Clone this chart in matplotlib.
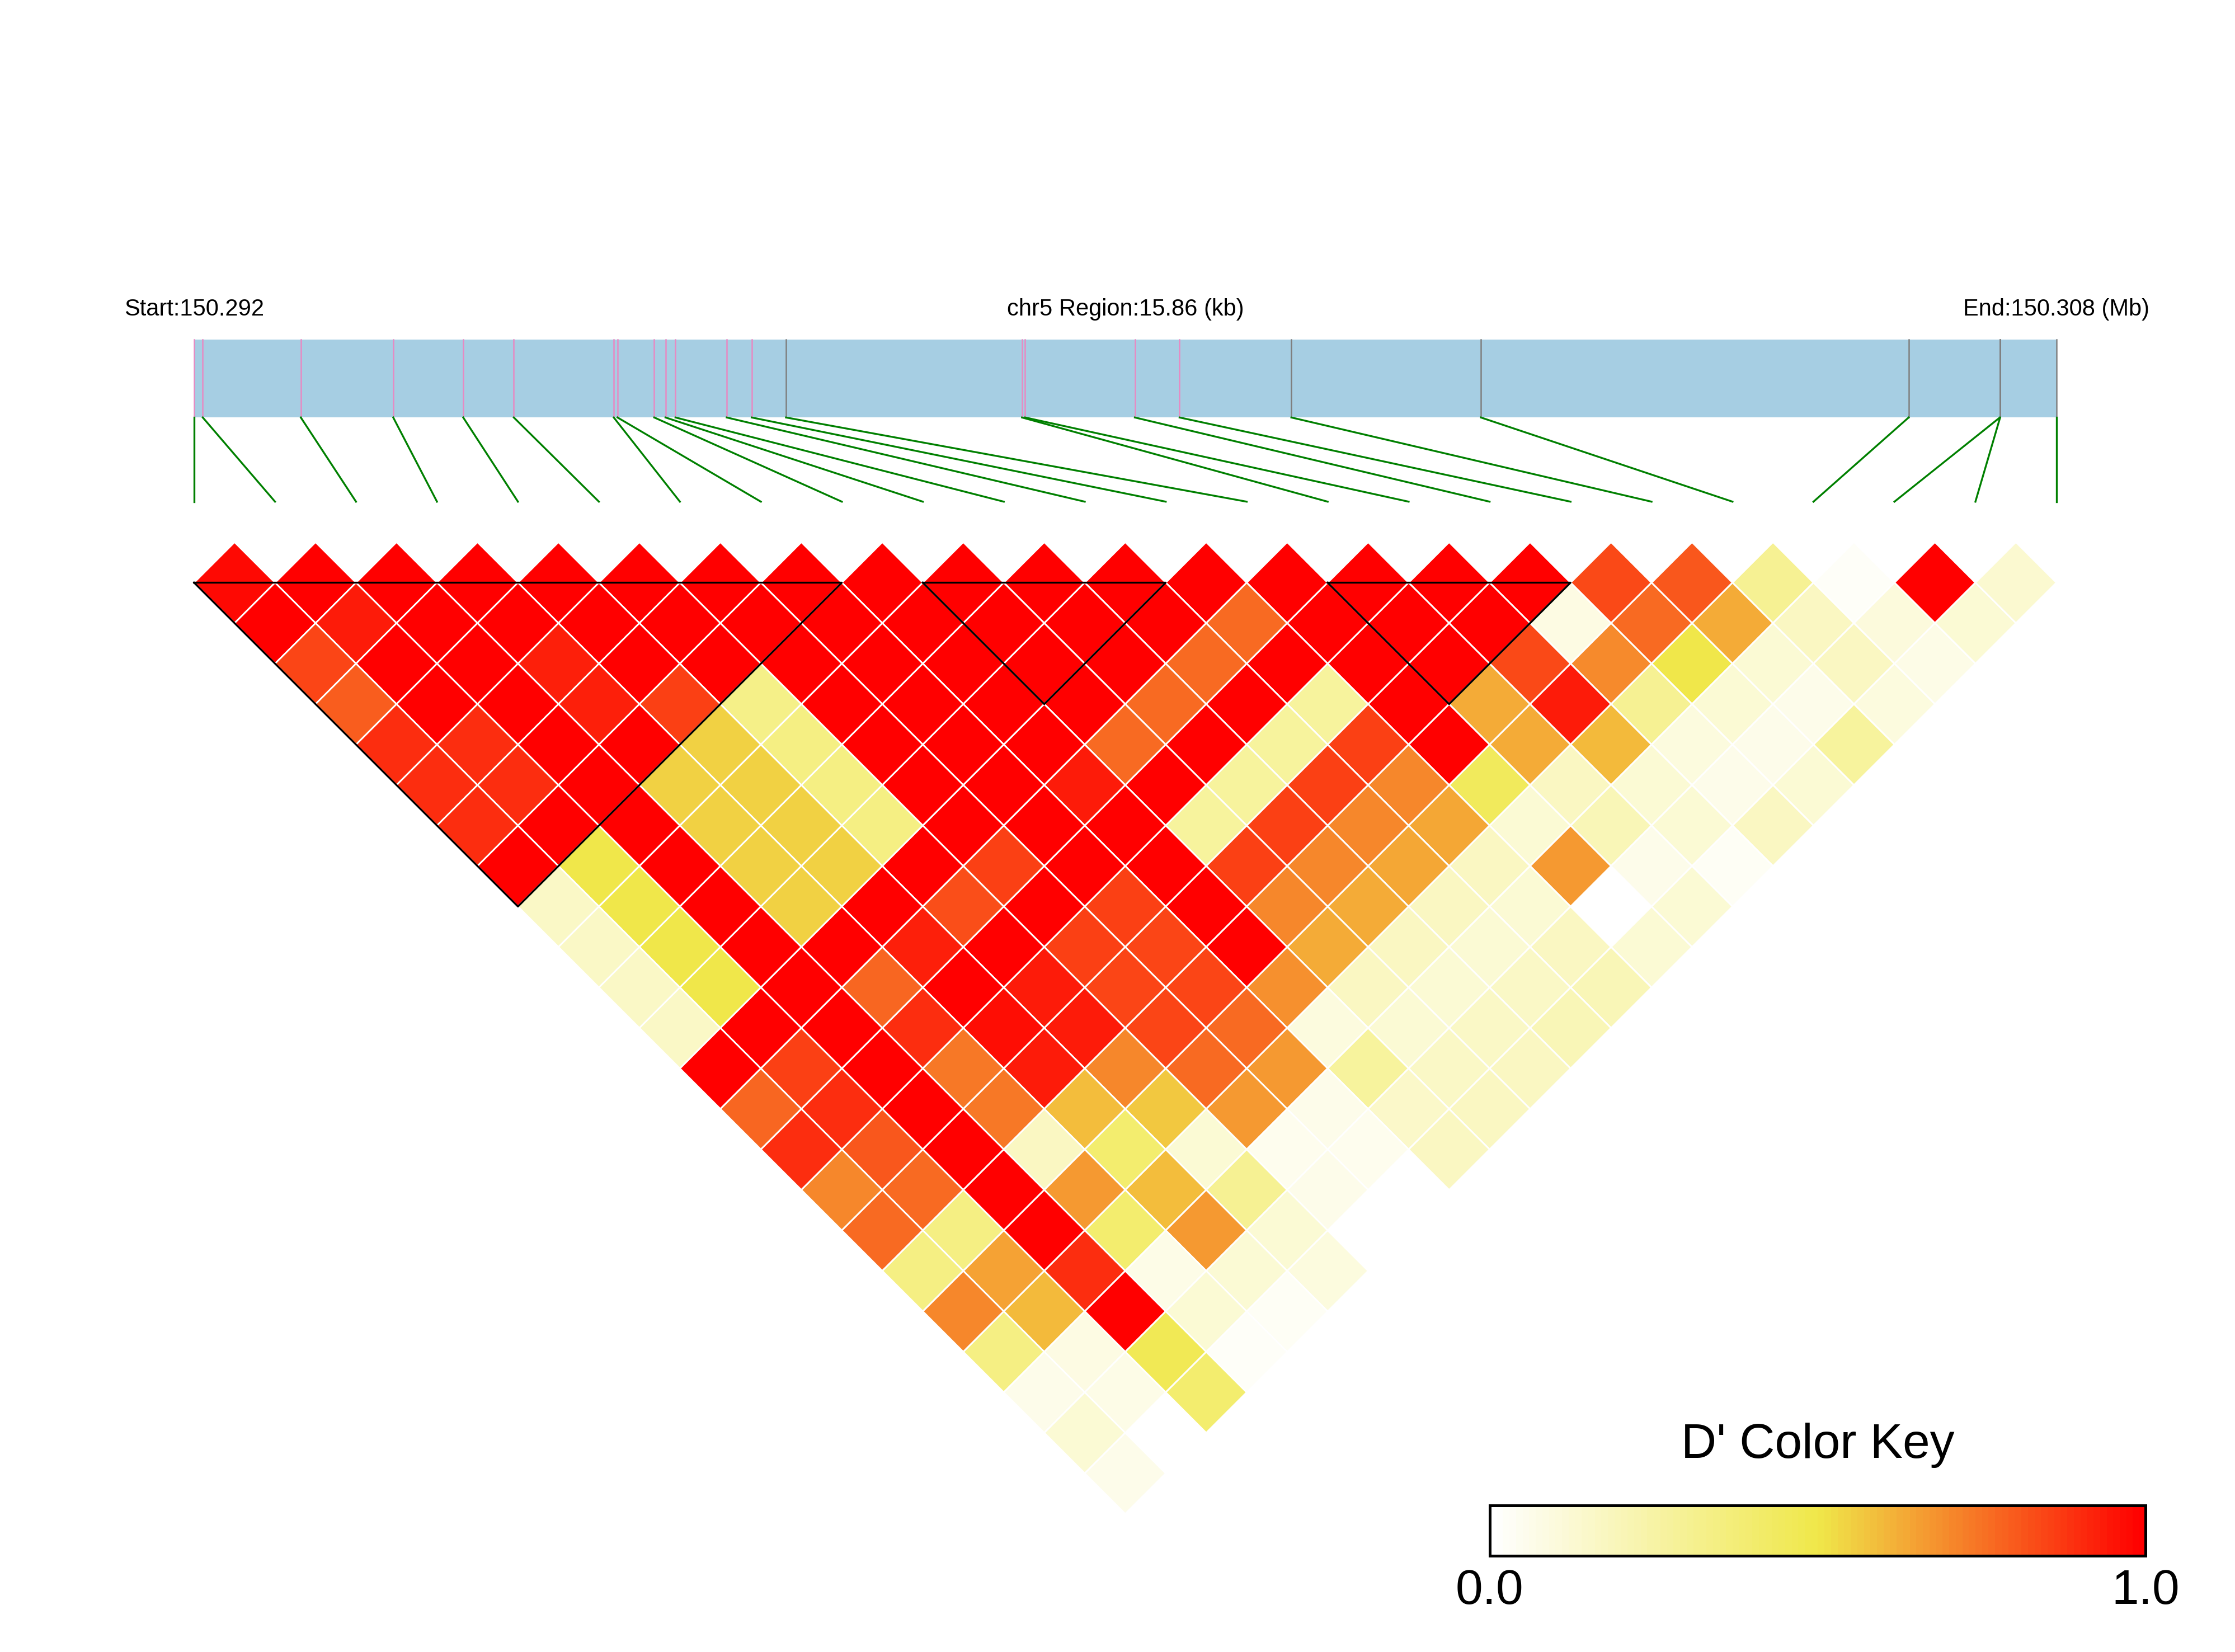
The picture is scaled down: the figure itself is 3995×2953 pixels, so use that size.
import numpy as np
import matplotlib
matplotlib.use('Agg')
import matplotlib.pyplot as plt
from matplotlib.colors import LinearSegmentedColormap
from matplotlib.patches import Rectangle
from matplotlib.collections import PolyCollection

plt.rcParams['font.family'] = ['Liberation Sans', 'DejaVu Sans']

# --- data ---------------------------------------------------------------

chrom = 'chr5'
start_mb = 150.292
end_mb = 150.308
region_kb = 15.86

# SNP positions, kb from the start of the region
snp_pos_kb = [0.000, 0.074, 0.909, 1.696, 2.292, 2.723, 3.574, 3.606,
              3.919, 4.015, 4.100, 4.536, 4.749, 5.041, 7.051, 7.078,
              8.012, 8.393, 9.345, 10.959, 14.602, 15.379, 15.381, 15.860]
# mark colour in the gene bar
snp_mark = ['pink'] * 13 + ['gray'] + ['pink'] * 4 + ['gray'] * 6

# haplotype blocks: first and last SNP
block_first = [0, 9, 14]
block_last = [8, 12, 17]

# D' values, one list per SNP distance (j - i); None = no value
d1 = [0.98, 1, 1, 1, 1, 1, 1, 1, 1, 1, 1, 1, 1, 1, 1, 1, 1, 0.84, 0.81, 0.30, 0.02, 1.0, 0.13]
d2 = [1, 0.94, 1, 1, 1, 1, 1, 1, 1, 1, 1, 1, 0.77, 1, 1, 1, 0.08, 0.77, 0.63, 0.17, 0.10, 0.12]
d3 = [0.85, 1, 1, 0.93, 1, 1, 1, 1, 1, 1, 1, 0.77, 1, 1, 1, 0.84, 0.70, 0.50, 0.12, 0.17, 0.07]
d4 = [0.80, 1, 1, 0.93, 0.86, 0.33, 1, 1, 1, 1, 0.77, 1, 0.27, 1, 0.63, 0.94, 0.30, 0.12, 0.06, 0.09]
d5 = [0.90, 0.90, 1, 1, 0.55, 0.34, 1, 1, 1, 0.77, 1, 0.27, 0.86, 1, 0.63, 0.60, 0.09, 0.06, 0.27]
d6 = [0.90, 0.90, 1, 0.55, 0.55, 0.34, 1, 1, 0.94, 1, 0.27, 0.86, 0.71, 0.45, 0.17, 0.12, 0.06, 0.12]
d7 = [0.90, 1, 1, 0.55, 0.55, 0.34, 1, 1, 1, 0.27, 0.86, 0.71, 0.64, 0.12, 0.20, 0.12, 0.17]
d8 = [1, 0.50, 1, 0.55, 0.55, 1, 0.86, 1, 1, 0.86, 0.71, 0.64, 0.17, 0.67, 0.06, 0.03]
d9 = [0.16, 0.50, 1, 0.55, 1, 0.83, 1, 0.86, 1, 0.71, 0.63, 0.17, 0.12, None, 0.12]
d10 = [0.16, 0.50, 1, 1, 0.93, 1, 0.86, 0.85, 1, 0.63, 0.17, 0.12, 0.17, 0.12]
d11 = [0.16, 0.50, 1, 0.78, 1, 0.94, 0.85, 0.85, 0.69, 0.17, 0.12, 0.16, 0.20]
d12 = [0.16, 1, 1, 0.90, 0.97, 0.94, 0.85, 0.77, 0.09, 0.12, 0.16, 0.20]
d13 = [1, 0.86, 1, 0.74, 0.94, 0.71, 0.77, 0.67, 0.27, 0.16, 0.17]
d14 = [0.78, 0.90, 1, 0.74, 0.59, 0.57, 0.67, 0.06, 0.15, 0.17]
d15 = [0.90, 0.81, 1, 0.17, 0.40, 0.12, 0.05, 0.05, 0.17]
d16 = [0.71, 0.77, 1, 0.67, 0.59, 0.30, 0.06, None]
d17 = [0.77, 0.34, 1, 0.40, 0.67, 0.12, None]
d18 = [0.34, 0.65, 0.90, 0.07, 0.12, 0.09]
d19 = [0.71, 0.60, 1, 0.12, 0.03]
d20 = [0.34, 0.08, 0.47, 0.02]
d21 = [0.06, 0.07, 0.40]
d22 = [0.12, None]
d23 = [0.06]

dprime = [d1, d2, d3, d4, d5, d6, d7, d8, d9, d10, d11, d12,
          d13, d14, d15, d16, d17, d18, d19, d20, d21, d22, d23]

# --- plot ---------------------------------------------------------------

n = len(snp_pos_kb)
cmap = LinearSegmentedColormap.from_list('dkey', ['#FFFFFF', '#F0E84A', '#FF0000'])
mark_colors = {'pink': '#E78AC3', 'gray': '#7F7F7F'}

fig = plt.figure(figsize=(3995 / 300, 2953 / 300), dpi=300)
ax = fig.add_axes([0, 0, 1, 1])
ax.axis('off')

# LD diamonds
polys = []
cols = []
for k, row in enumerate(dprime, start=1):
    for i, v in enumerate(row):
        if v is None:
            continue
        j = i + k
        cx = (i + j) / 2
        cy = -(k - 1) / 2
        polys.append([(cx - 0.5, cy), (cx, cy + 0.5), (cx + 0.5, cy), (cx, cy - 0.5)])
        cols.append(cmap(float(v)))  # float, an int would index the LUT
ax.add_collection(PolyCollection(polys, facecolors=cols, edgecolors='white', linewidths=0.7, zorder=2))

# block outlines
for s, e in zip(block_first, block_last):
    ax.plot([s, e, (s + e) / 2, s], [0, 0, -(e - s) / 2, 0], color='black', lw=0.8, zorder=3)

# gene bar and SNP connectors
bar_lo, bar_hi = 2.04, 3.0
ax.add_patch(Rectangle((0, bar_lo), n - 1, bar_hi - bar_lo, facecolor='#A6CEE3', edgecolor='none', zorder=1))
for idx, (p, m) in enumerate(zip(snp_pos_kb, snp_mark)):
    gx = p / region_kb * (n - 1)
    ax.plot([gx, gx], [bar_lo, bar_hi], color=mark_colors[m], lw=0.6, zorder=2)
    ax.plot([gx, idx], [bar_lo, 1.0], color='green', lw=0.8, zorder=2)

ax.text(0, 3.3, f'Start:{start_mb:.3f}', ha='center', va='baseline', fontsize=10)
ax.text((n - 1) / 2, 3.3, f'{chrom} Region:{region_kb:.2f} (kb)', ha='center', va='baseline', fontsize=10)
ax.text(n - 1, 3.3, f'End:{end_mb:.3f} (Mb)', ha='center', va='baseline', fontsize=10)

# colour key
cb_x0, cb_x1, cb_y0, cb_y1 = 16.0, 24.1, -12.02, -11.40
grad = np.linspace(0, 1, 100).reshape(1, -1)
ax.imshow(grad, extent=[cb_x0, cb_x1, cb_y0, cb_y1], cmap=cmap, aspect='auto',
          interpolation='nearest', zorder=2)
ax.add_patch(Rectangle((cb_x0, cb_y0), cb_x1 - cb_x0, cb_y1 - cb_y0, fill=False,
                       edgecolor='black', lw=1.2, zorder=3))
ax.text((cb_x0 + cb_x1) / 2, -10.81, "D' Color Key", ha='center', va='baseline', fontsize=21)
ax.text(cb_x0, -12.61, '0.0', ha='center', va='baseline', fontsize=21)
ax.text(cb_x1, -12.61, '1.0', ha='center', va='baseline', fontsize=21)

ax.set_xlim(-2.397, 25.206)
ax.set_ylim(-13.207, 7.196)

fig.savefig('out.png', dpi=300)
